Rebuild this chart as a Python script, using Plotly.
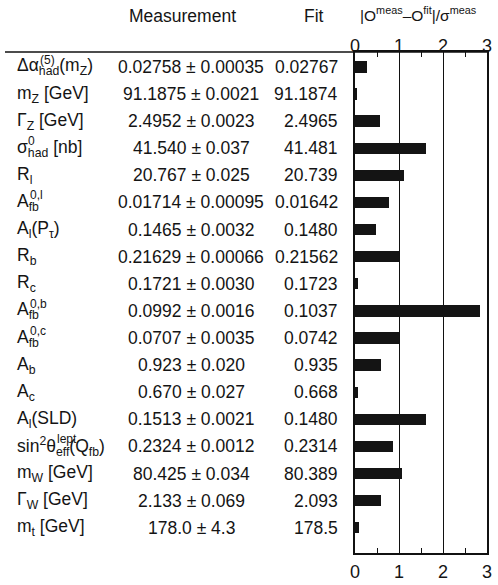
import plotly.graph_objects as go

labels = [
    "Δα<sub>had</sub>(m<sub>Z</sub>)",
    "m<sub>Z</sub> [GeV]",
    "Γ<sub>Z</sub> [GeV]",
    "σ<sub>had</sub> [nb]",
    "R<sub>l</sub>",
    "A<sub>fb</sub>",
    "A<sub>l</sub>(P<sub>τ</sub>)",
    "R<sub>b</sub>",
    "R<sub>c</sub>",
    "A<sub>fb</sub>",
    "A<sub>fb</sub>",
    "A<sub>b</sub>",
    "A<sub>c</sub>",
    "A<sub>l</sub>(SLD)",
    "sin<sup>2</sup>θ<sub>eff</sub>(Q<sub>fb</sub>)",
    "m<sub>W</sub> [GeV]",
    "Γ<sub>W</sub> [GeV]",
    "m<sub>t</sub> [GeV]",
]
# stacked superscripts: (row, text preceding it, superscript)
label_sups = [
    (0, "Δα", "(5)"),
    (3, "σ", "0"),
    (5, "A", "0,l"),
    (9, "A", "0,b"),
    (10, "A", "0,c"),
    (14, "sin²θ", "lept"),
]
measurements = [
    "0.02758 ± 0.00035", "91.1875 ± 0.0021", "2.4952 ± 0.0023", "41.540 ± 0.037",
    "20.767 ± 0.025", "0.01714 ± 0.00095", "0.1465 ± 0.0032", "0.21629 ± 0.00066",
    "0.1721 ± 0.0030", "0.0992 ± 0.0016", "0.0707 ± 0.0035", "0.923 ± 0.020",
    "0.670 ± 0.027", "0.1513 ± 0.0021", "0.2324 ± 0.0012", "80.425 ± 0.034",
    "2.133 ± 0.069", "178.0 ± 4.3",
]
fits = [
    "0.02767", "91.1874", "2.4965", "41.481", "20.739", "0.01642", "0.1480",
    "0.21562", "0.1723", "0.1037", "0.0742", "0.935", "0.668", "0.1480",
    "0.2314", "80.389", "2.093", "178.5",
]
pulls = [0.27, 0.04, 0.57, 1.61, 1.11, 0.78, 0.48, 1.01, 0.07, 2.83, 1.00,
         0.60, 0.06, 1.61, 0.86, 1.07, 0.58, 0.10]
tick_vals = [0, 1, 2, 3]

FONT = "Liberation Sans, Arial, Helvetica, sans-serif"
TXT = "#141414"
FS = 17.5      # label / header text
FN = 17.5      # numeric columns
W, H = 498, 585
L, R, T, B = 355, 11, 52, 32
PW = W - L - R

# approximate Arial advance widths (em) for superscript placement
CW = {"Δ": 0.668, "α": 0.578, "σ": 0.571, "A": 0.667, "s": 0.5, "i": 0.222,
      "n": 0.556, "²": 0.39, "θ": 0.556}

def text_w(s):
    return sum(CW.get(c, 0.556) for c in s) * FS

def px(x):
    return (x - L) / PW

rows = list(range(len(labels)))

fig = go.Figure()
fig.add_trace(go.Bar(x=pulls, y=rows, orientation="h", width=0.42,
                     marker=dict(color="#141414", line=dict(width=0)),
                     showlegend=False, hoverinfo="skip"))
fig.add_trace(go.Scatter(x=[0, 3], y=[0, 0], xaxis="x2", mode="markers",
                         marker=dict(opacity=0), showlegend=False, hoverinfo="skip"))

font = dict(size=FS, color=TXT, family=FONT)
nfont = dict(size=FN, color=TXT, family=FONT)
ann = []
LBL_X = 15
for i in rows:
    ann.append(dict(x=px(LBL_X), y=i, xref="paper", yref="y", text=labels[i],
                    xanchor="left", yanchor="middle", align="left",
                    showarrow=False, font=font))
    ann.append(dict(x=px(191), y=i, xref="paper", yref="y",
                    text=measurements[i],
                    xanchor="center", yanchor="middle", showarrow=False, font=nfont))
    ann.append(dict(x=px(340), y=i, xref="paper", yref="y", text=fits[i],
                    xanchor="right", yanchor="middle", align="right",
                    showarrow=False, font=nfont))

for row, pre, sup in label_sups:
    ann.append(dict(x=px(LBL_X + text_w(pre) + 1), y=row, xref="paper", yref="y",
                    text=sup, xanchor="left", yanchor="middle", align="left", yshift=7,
                    showarrow=False, font=dict(size=12, color=TXT, family=FONT)))

hdr_y = 1 + (T - 16) / (H - T - B)
ann.append(dict(x=px(182), y=hdr_y, xref="paper", yref="paper",
                text="Measurement", xanchor="center", yanchor="middle", showarrow=False,
                font=font))
ann.append(dict(x=px(326), y=hdr_y, xref="paper", yref="paper",
                text="Fit", xanchor="right", yanchor="middle", showarrow=False,
                font=font))
ann.append(dict(x=px(418), y=1 + (T - 14) / (H - T - B), xref="paper", yref="paper",
                text="|O<sup>meas</sup>–O<sup>fit</sup>|/σ<sup>meas</sup>",
                xanchor="center", yanchor="middle", showarrow=False,
                font=dict(size=15.5, color=TXT, family=FONT)))

axis_common = dict(range=[0, 3], tickvals=tick_vals, ticks="", showline=True,
                   linecolor="#111", linewidth=1.5, automargin=False,
                   tickfont=dict(size=18, color=TXT, family=FONT),
                   minor=dict(tickvals=[0.5, 1.5, 2.5], ticks="inside", ticklen=5,
                              tickcolor="#111", tickwidth=1.2, showgrid=False),
                   zeroline=False, fixedrange=True)

fig.update_layout(
    width=W, height=H,
    margin=dict(l=L, r=R, t=T, b=B, pad=0, autoexpand=False),
    paper_bgcolor="white", plot_bgcolor="white",
    bargap=0,
    xaxis=dict(**axis_common, side="bottom", showgrid=True, gridcolor="#111",
               gridwidth=1.3, ticklabelstandoff=2),
    xaxis2=dict(**axis_common, side="top", overlaying="x", showgrid=False,
                ticklabelstandoff=-9),
    yaxis=dict(range=[17.93, -0.55], showticklabels=False, ticks="", showgrid=False,
               zeroline=False, showline=True, mirror=True, linecolor="#111",
               linewidth=1.5, fixedrange=True, automargin=False),
    annotations=ann,
    shapes=[dict(type="line", xref="paper", yref="paper", x0=px(5), x1=1, y0=1, y1=1,
                 line=dict(color="#111", width=1.5))],
)

fig.write_html("out.html", config={"displayModeBar": False},
               post_script="document.body.style.margin='0px';document.body.style.overflow='hidden';")
